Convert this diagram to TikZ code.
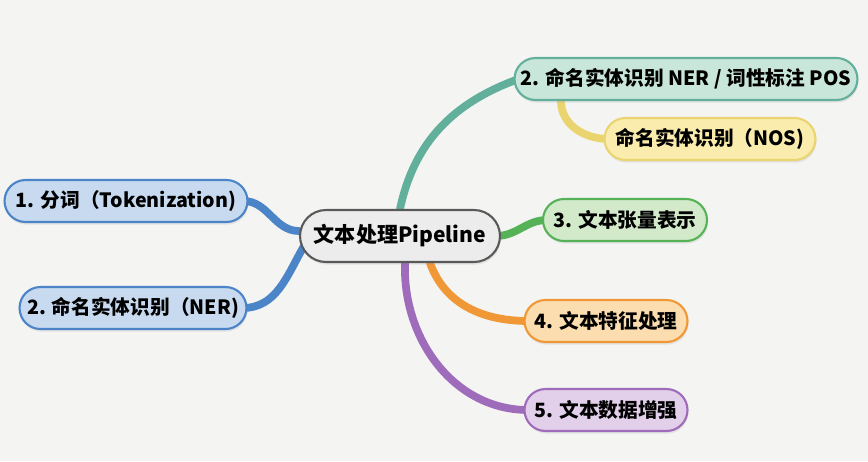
\documentclass[tikz,border=0pt]{standalone}
\usepackage{fontspec}
\setmainfont{Noto Sans CJK SC}
\usetikzlibrary{backgrounds,shadows}

\definecolor{bgc}{RGB}{244,244,243}
\definecolor{tealF}{RGB}{201,230,218}
\definecolor{tealD}{RGB}{98,176,156}
\definecolor{yelF}{RGB}{250,236,172}
\definecolor{yelD}{RGB}{234,212,112}
\definecolor{grnF}{RGB}{210,234,202}
\definecolor{grnD}{RGB}{86,178,86}
\definecolor{orgF}{RGB}{252,221,176}
\definecolor{orgD}{RGB}{240,152,54}
\definecolor{purF}{RGB}{226,207,233}
\definecolor{purD}{RGB}{158,108,186}
\definecolor{bluF}{RGB}{200,218,240}
\definecolor{bluD}{RGB}{76,132,200}
\definecolor{ctrF}{RGB}{236,236,236}

\begin{document}
\begin{tikzpicture}[
        x=0.02cm, y=-0.02cm,
        leaf/.style={draw, line width=1.2pt, rounded corners=0.42cm, minimum height=0.84cm,
            font=\fontsize{11.2}{13}\selectfont\bfseries, inner sep=2pt,
            drop shadow={opacity=0.15, shadow xshift=0.5pt, shadow yshift=-1.5pt}},
        root/.style={leaf, fill=ctrF, draw=black!65, rounded corners=0.52cm, minimum height=1.04cm,
            minimum width=4cm, font=\fontsize{12}{14}\selectfont\bfseries},
        branch/.style={line width=4.4pt, line cap=round}
    ]
        % 中心节点
        \node[root] (ctr) at (400,236) {文本处理Pipeline};

        % 各分支节点
        \node[leaf, fill=tealF, draw=tealD, minimum width=6.86cm] (ner) at (686,79) {2. 命名实体识别 NER / 词性标注 POS};
        \node[leaf, fill=yelF, draw=yelD, minimum width=4.22cm] (nos) at (710,139) {命名实体识别（NOS)};
        \node[leaf, fill=grnF, draw=grnD, minimum width=3.28cm] (tensor) at (625,220) {3. 文本张量表示};
        \node[leaf, fill=orgF, draw=orgD, minimum width=3.26cm] (feat) at (606,321) {4. 文本特征处理};
        \node[leaf, fill=purF, draw=purD, minimum width=3.26cm] (aug) at (606,410) {5. 文本数据增强};
        \node[leaf, fill=bluF, draw=bluD, minimum width=4.86cm] (tok) at (126,201) {1. 分词（Tokenization)};
        \node[leaf, fill=bluF, draw=bluD, minimum width=4.54cm] (ner2) at (133,308) {2. 命名实体识别（NER)};

        % 底色和连线放在节点下面
        \begin{pgfonlayer}{background}
            \fill[bgc] (0,0) rectangle (868,461);
            \draw[branch, tealD] (ctr.north) to[out=78, in=200] ([xshift=0.1cm]ner.west);
            \draw[branch, yelD] ([xshift=0.95cm]ner.south west) to[out=-90, in=180] ([xshift=0.1cm]nos.west);
            \draw[branch, grnD] ([xshift=-0.1cm]ctr.east) to[out=0, in=180] ([xshift=0.1cm]tensor.west);
            \draw[branch, orgD] ([xshift=0.6cm]ctr.south) to[out=-70, in=180] ([xshift=0.1cm]feat.west);
            \draw[branch, purD] ([xshift=0.1cm]ctr.south) to[out=-92, in=180] ([xshift=0.1cm]aug.west);
            \draw[branch, bluD] ([yshift=0.1cm]ctr.west) to[out=180, in=0] ([xshift=-0.1cm]tok.east);
            \draw[branch, bluD] ([yshift=-0.2cm, xshift=0.1cm]ctr.west) to[out=-120, in=0] ([xshift=-0.1cm]ner2.east);
        \end{pgfonlayer}
    \end{tikzpicture}
\end{document}
